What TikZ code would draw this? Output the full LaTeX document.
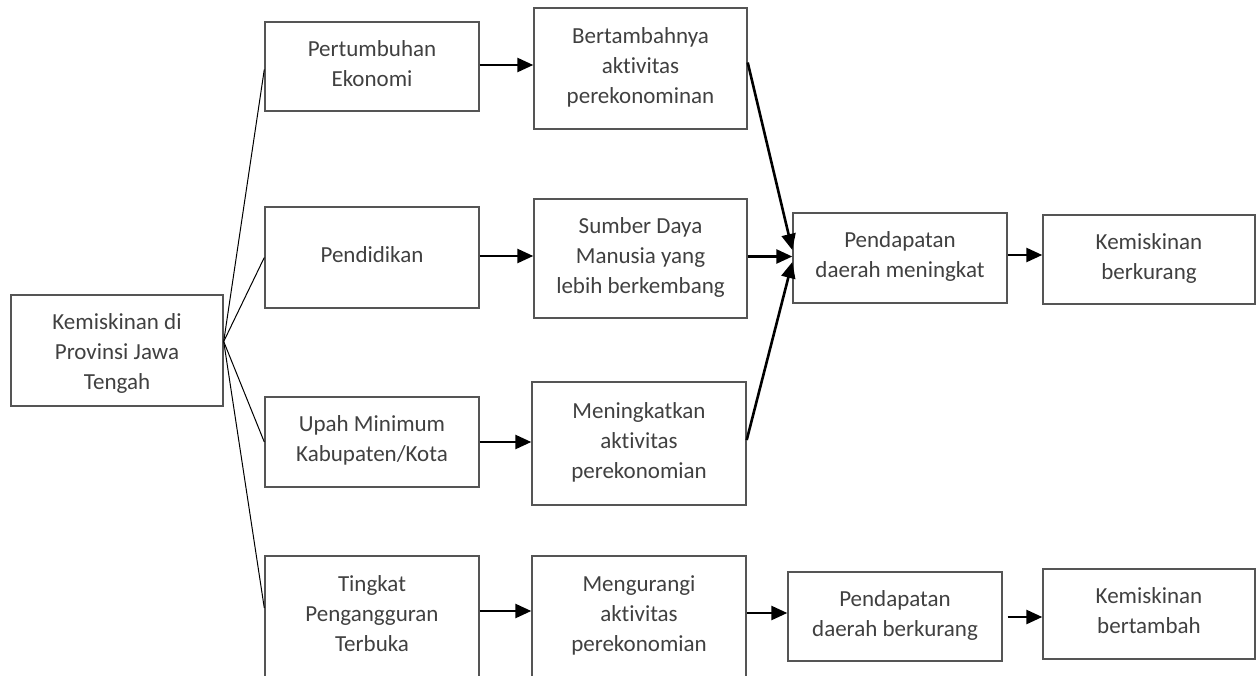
\documentclass[tikz,border=0pt]{standalone}
\usepackage{fontspec}
\setmainfont{Carlito}[Ligatures=NoCommon]
\usetikzlibrary{arrows.meta}
\definecolor{txt}{HTML}{404040}
\definecolor{edge}{HTML}{555555}
\tikzset{
  box/.style={draw=edge, line width=1.4pt, rectangle, align=center, text=txt,
    font=\fontsize{23}{30}\selectfont, inner sep=0pt,
    execute at end node={\rule[-6pt]{0pt}{0pt}}},
  arr/.style={draw=black, line width=2.6pt, -{Triangle[length=16pt,width=14pt]}},
  fan/.style={draw=black, line width=1pt},
}
\begin{document}
\begin{tikzpicture}[x=1pt,y=-1pt]
\useasboundingbox (0,0) rectangle (1258,675);
\clip (0,0) rectangle (1258,675);
\node[box, minimum width=212, minimum height=111] (kem) at (117,350.5) {\rule{0pt}{24pt}Kemiskinan di\\Provinsi Jawa\\Tengah};
\node[box, minimum width=214, minimum height=89] (pe) at (372,66.5) {Pertumbuhan\\Ekonomi};
\node[box, minimum width=214, minimum height=101] (pd) at (372,257.5) {Pendidikan};
\node[box, minimum width=214, minimum height=90] (um) at (372,442) {Upah Minimum\\Kabupaten/Kota};
\node[box, minimum width=214, minimum height=122] (tp) at (372,617) {Tingkat\\Pengangguran\\Terbuka};
\node[box, minimum width=213, minimum height=121] (ba) at (640.5,68.5) {Bertambahnya\\aktivitas\\perekonominan};
\node[box, minimum width=213, minimum height=119] (sd) at (640.5,258.5) {Sumber Daya\\Manusia yang\\lebih berkembang};
\node[box, minimum width=214, minimum height=123] (ma) at (639,443.5) {Meningkatkan\\aktivitas\\perekonomian};
\node[box, minimum width=214, minimum height=122] (mg) at (639,617) {Mengurangi\\aktivitas\\perekonomian};
\node[box, minimum width=214, minimum height=90] (pm) at (900,258) {Pendapatan\\daerah meningkat};
\node[box, minimum width=212, minimum height=89] (kb) at (1149,259.5) {Kemiskinan\\berkurang};
\node[box, minimum width=214, minimum height=89] (pb) at (895,616.5) {Pendapatan\\daerah berkurang};
\node[box, minimum width=212, minimum height=90] (kt) at (1149,614) {Kemiskinan\\bertambah};
% fan
\coordinate (apex) at ([yshift=9pt]kem.east);
\draw[fan] (apex) -- ([yshift=-3pt]pe.west);
\draw[fan] (apex) -- (pd.west);
\draw[fan] (apex) -- (um.west);
\draw[fan] (apex) -- ([yshift=9pt]tp.west);
% arrows
\draw[arr] ([yshift=1.5pt]pe.east) -- ([yshift=1.5pt]pe.east -| ba.west);
\draw[arr] ([yshift=1.5pt]pd.east) -- ([yshift=1.5pt]pd.east -| sd.west);
\draw[arr] (um.east) -- (um.east -| ma.west);
\draw[arr] ([yshift=6pt]tp.east) -- ([yshift=6pt]tp.east -| mg.west);
\draw[arr] ([yshift=2pt]sd.east) -- ([yshift=2pt]sd.east -| pm.west);
\draw[arr] ([yshift=3pt]pm.east) -- ([yshift=3pt]pm.east -| kb.west);
\draw[arr] ([yshift=6pt]ba.east) -- ([yshift=8pt]pm.west);
\draw[arr] ([yshift=3.5pt]ma.east) -- ([yshift=-4pt]pm.west);
\draw[arr] ([yshift=4pt]mg.east) -- ([yshift=4pt]mg.east -| pb.west);
\draw[arr] ([xshift=5pt,yshift=-0.5pt]pb.east) -- ([yshift=-0.5pt]pb.east -| kt.west);
\end{tikzpicture}
\end{document}
